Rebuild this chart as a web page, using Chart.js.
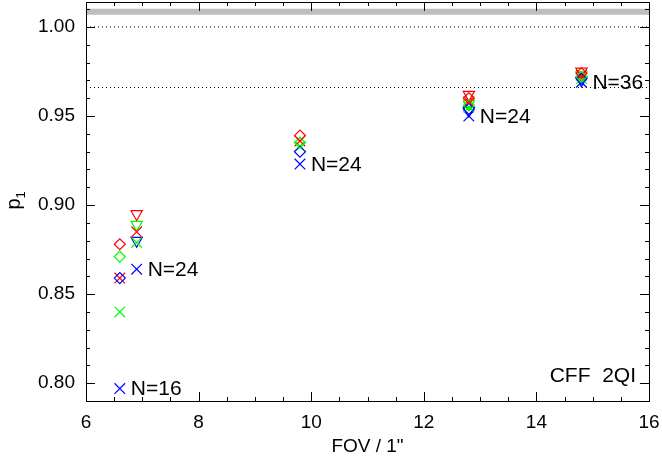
<!DOCTYPE html>
<html>
<head>
<meta charset="utf-8">
<script src="https://cdn.jsdelivr.net/npm/chart.js@4"></script>
<style>
  body { margin: 0; background: #fff; }
  canvas { display: block; }
</style>
</head>
<body>
<canvas id="chart" width="662" height="463"></canvas>
<script>
// FOV positions of the point columns
const fov = [6.6, 6.9, 9.8, 12.8, 14.8];

// p1 values per colour and symbol (null = no point in that column)
const redDiamond   = [0.878, null, 0.939, 0.960, 0.974];
const greenDiamond = [0.871, null, 0.935, 0.956, 0.972];
const blueDiamond  = [0.859, null, 0.930, 0.954, 0.971];
const redCross     = [0.859, 0.885, 0.936, 0.958, 0.973];
const greenCross   = [0.840, 0.879, 0.933, 0.955, 0.971];
const blueCross    = [0.797, 0.864, 0.923, 0.950, 0.969];
const redTri       = [null, 0.895, null, 0.962, 0.975];
const greenTri     = [null, 0.889, null, 0.957, 0.973];
const blueTri      = [null, 0.880, null, 0.953, 0.970];

// labels written next to the blue crosses
const nLabels = ['N=16', 'N=24', 'N=24', 'N=24', 'N=36'];

// reference lines
const grayLine = 1.0085;
const dotLines = [1.00, 0.966];

// axes
const xTicks = [6, 8, 10, 12, 14, 16];
const yTicks = [0.80, 0.85, 0.90, 0.95, 1.00];
const xMinorStep = 0.5;
const yMinorStep = 0.01;

const FONT = "'Liberation Sans', Arial, Helvetica, sans-serif";

function points(ys) {
    return fov.map((x, i) => ({ x: x, y: ys[i] })).filter(p => p.y !== null);
}

function markers(ys, color, style, radius, rotation) {
    return {
        type: 'scatter',
        data: points(ys),
        pointStyle: style,
        pointRadius: radius,
        pointHoverRadius: radius,
        pointRotation: rotation || 0,
        pointBorderColor: color,
        pointBackgroundColor: 'rgba(0,0,0,0)',
        pointBorderWidth: 1.2,
        showLine: false
    };
}

function hLine(v, color, width, dash) {
    return {
        type: 'line',
        data: [{ x: 6, y: v }, { x: 16, y: v }],
        borderColor: color,
        borderWidth: width,
        borderDash: dash,
        pointRadius: 0,
        fill: false
    };
}

// frame, inward ticks and the text annotations
const framePlugin = {
    id: 'frame',
    afterDraw(chart) {
        const { ctx, scales: { x, y } } = chart;
        const L = x.getPixelForValue(6), R = x.getPixelForValue(16);
        const T = y.getPixelForValue(y.max), B = y.getPixelForValue(y.min);
        ctx.save();
        ctx.strokeStyle = '#000';
        ctx.lineWidth = 1;
        ctx.strokeRect(Math.round(L) + 0.5, Math.round(T) + 0.5, Math.round(R - L), Math.round(B - T));

        ctx.beginPath();
        for (let v = xTicks[0]; v <= xTicks[xTicks.length - 1] + 1e-9; v += xMinorStep) {
            const major = Math.abs(v - Math.round(v / 2) * 2) < 1e-6;
            const len = major ? 9 : 4;
            const px = Math.round(x.getPixelForValue(v)) + 0.5;
            ctx.moveTo(px, B); ctx.lineTo(px, B - len);
            ctx.moveTo(px, T); ctx.lineTo(px, T + len);
        }
        for (let k = 79; k <= 101; k++) {
            const v = k * yMinorStep;
            const major = k % 5 === 0;
            const len = major ? 9 : 4;
            const py = Math.round(y.getPixelForValue(v)) + 0.5;
            if (py < T || py > B) continue;
            ctx.moveTo(L, py); ctx.lineTo(L + len, py);
            ctx.moveTo(R, py); ctx.lineTo(R - len, py);
        }
        ctx.stroke();

        ctx.fillStyle = '#000';
        ctx.font = '21px ' + FONT;
        ctx.textBaseline = 'middle';
        ctx.textAlign = 'left';
        fov.forEach((f, i) => {
            ctx.fillText(nLabels[i], x.getPixelForValue(f) + 11, y.getPixelForValue(blueCross[i]) + 1);
        });

        ctx.textAlign = 'right';
        ctx.fillText('CFF  2QI', R - 13, B - 25);

        // x title
        ctx.font = '19px ' + FONT;
        ctx.textAlign = 'center';
        ctx.fillText('FOV / 1"', (L + R) / 2, 447);

        // y title p with subscript 1
        ctx.translate(14, (T + B) / 2);
        ctx.rotate(-Math.PI / 2);
        ctx.textAlign = 'left';
        ctx.textBaseline = 'alphabetic';
        ctx.font = '20px ' + FONT;
        ctx.fillText('p', -8, 6);
        ctx.font = '13px ' + FONT;
        ctx.fillText('1', 3, 11);
        ctx.restore();
    }
};

const ctx = document.getElementById('chart').getContext('2d');

new Chart(ctx, {
    type: 'scatter',
    data: {
        datasets: [
            hLine(grayLine, '#bebebe', 6, []),
            hLine(dotLines[0], '#000', 1, [1, 3]),
            hLine(dotLines[1], '#000', 1, [1, 3]),
            markers(redDiamond, '#ff0000', 'rectRot', 5.5),
            markers(greenDiamond, '#00ff00', 'rectRot', 5.5),
            markers(blueDiamond, '#0000ff', 'rectRot', 5.5),
            markers(redCross, '#ff0000', 'crossRot', 7.5),
            markers(greenCross, '#00ff00', 'crossRot', 7.5),
            markers(blueCross, '#0000ff', 'crossRot', 7.5),
            markers(redTri, '#ff0000', 'triangle', 6.5, 180),
            markers(greenTri, '#00ff00', 'triangle', 6.5, 180),
            markers(blueTri, '#0000ff', 'triangle', 6.5, 180)
        ]
    },
    options: {
        responsive: false,
        animation: false,
        layout: { autoPadding: false, padding: { top: 2, right: 13, left: 0, bottom: 0 } },
        plugins: {
            legend: { display: false },
            tooltip: { enabled: false }
        },
        scales: {
            x: {
                type: 'linear',
                min: 6,
                max: 16,
                afterBuildTicks: s => { s.ticks = xTicks.map(v => ({ value: v })); },
                afterFit: s => { s.height = 62; s.paddingLeft = 0; s.paddingRight = 0; },
                grid: { display: false },
                border: { display: false },
                ticks: {
                    color: '#000',
                    padding: 2,
                    font: { family: FONT, size: 19 },
                    maxRotation: 0,
                    callback: v => String(v)
                }
            },
            y: {
                type: 'linear',
                min: 0.79,
                max: 1.014,
                afterBuildTicks: s => { s.ticks = yTicks.map(v => ({ value: v })); },
                afterFit: s => { s.width = 86; s.paddingTop = 0; s.paddingBottom = 0; },
                grid: { display: false },
                border: { display: false },
                ticks: {
                    color: '#000',
                    padding: 3,
                    font: { family: FONT, size: 19 },
                    callback: v => v.toFixed(2)
                }
            }
        }
    },
    plugins: [framePlugin]
});
</script>
</body>
</html>
